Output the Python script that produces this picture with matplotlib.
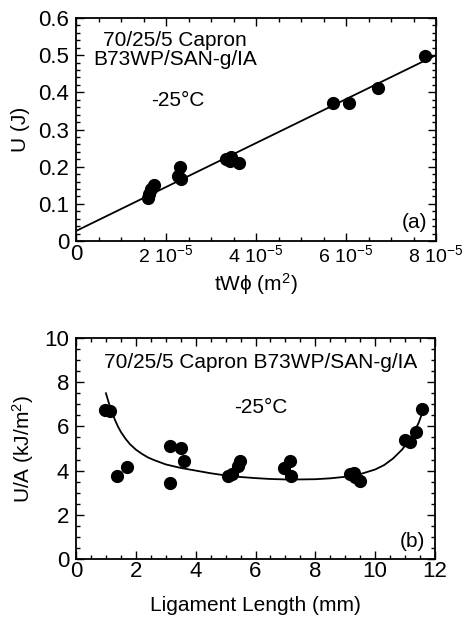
import matplotlib
matplotlib.use('Agg')
import matplotlib.pyplot as plt
from matplotlib.ticker import MultipleLocator, FuncFormatter

plt.rcParams['font.family'] = ['Liberation Sans', 'DejaVu Sans']
plt.rcParams['mathtext.fontset'] = 'custom'
plt.rcParams['mathtext.rm'] = 'Liberation Sans'
plt.rcParams['mathtext.it'] = 'Liberation Sans:italic'
plt.rcParams['mathtext.default'] = 'regular'

# panel (a): U vs tW*phi
twphi = [1.59e-5, 1.63e-5, 1.67e-5, 1.73e-5, 2.26e-5, 2.31e-5, 2.33e-5,
         3.33e-5, 3.44e-5, 3.43e-5, 3.63e-5, 5.72e-5, 6.06e-5, 6.72e-5, 7.76e-5]
energy = [0.117, 0.126, 0.140, 0.150, 0.176, 0.198, 0.167,
          0.221, 0.225, 0.214, 0.209, 0.371, 0.372, 0.412, 0.497]
fit_a_x = [0.0, 8.0e-5]
fit_a_y = [0.027, 0.500]
xticks_a = [0, 2e-5, 4e-5, 6e-5, 8e-5]
xticklabels_a = ['0', r'2 10$^{-5}$', r'4 10$^{-5}$', r'6 10$^{-5}$', r'8 10$^{-5}$']

# panel (b): U/A vs ligament length
lig = [0.97, 1.14, 1.36, 1.71, 3.15, 3.15, 3.51, 3.60, 5.09, 5.20, 5.42, 5.48,
       6.96, 7.16, 7.19, 9.15, 9.29, 9.33, 9.50, 11.00, 11.17, 11.36, 11.58]
ua = [6.74, 6.71, 3.77, 4.15, 5.13, 3.44, 5.00, 4.45, 3.74, 3.85, 4.22, 4.42,
      4.12, 4.42, 3.74, 3.85, 3.89, 3.70, 3.54, 5.38, 5.31, 5.73, 6.79]
curve_x = [1.0, 1.1, 1.2, 1.3, 1.4, 1.5, 1.65, 1.8, 2.0, 2.2, 2.4, 2.6, 2.8, 3.0,
           3.5, 4.0, 4.5, 5.0, 5.5, 6.0, 6.5, 7.0, 7.5, 8.0, 8.5, 9.0, 9.5,
           10.0, 10.3, 10.6, 10.9, 11.1, 11.3, 11.45, 11.6]
curve_y = [7.50, 7.05, 6.65, 6.30, 6.00, 5.75, 5.45, 5.20, 4.95, 4.76, 4.60, 4.48,
           4.38, 4.28, 4.12, 4.00, 3.88, 3.78, 3.71, 3.66, 3.62, 3.60, 3.60, 3.61,
           3.65, 3.72, 3.84, 4.05, 4.25, 4.55, 4.95, 5.30, 5.75, 6.15, 6.70]

fig = plt.figure(figsize=(4.64, 6.22), dpi=100)
ax1 = fig.add_axes([0.1638, 0.6125, 0.7759, 0.3586])
ax2 = fig.add_axes([0.1638, 0.1013, 0.7737, 0.3553])

fs = 15
tfs = 16

ax1.plot(fit_a_x, fit_a_y, color='black', lw=1.3)
ax1.plot(twphi, energy, 'o', color='black', ms=8.5)
ax1.set_xlim(0, 8e-5)
ax1.set_ylim(0, 0.6)
ax1.set_xticks(xticks_a)
ax1.set_xticklabels(xticklabels_a)
ax1.xaxis.set_minor_locator(MultipleLocator(0.5e-5))
ax1.yaxis.set_major_locator(MultipleLocator(0.1))
ax1.yaxis.set_minor_locator(MultipleLocator(0.02))
ax1.yaxis.set_major_formatter(FuncFormatter(lambda v, p: '0' if abs(v) < 1e-9 else f'{v:.1f}'))
ax1.set_ylabel('U (J)', fontsize=fs, labelpad=6)
ax1.set_xlabel('tW\u03d5 (m$^2$)', fontsize=fs, labelpad=4)
ax1.text(0.275, 0.901, '70/25/5 Capron', transform=ax1.transAxes,
         ha='center', va='center', fontsize=fs)
ax1.text(0.275, 0.812, 'B73WP/SAN-g/IA', transform=ax1.transAxes,
         ha='center', va='center', fontsize=fs)
ax1.text(0.282, 0.632, '-25\u00b0C', transform=ax1.transAxes, ha='center',
         va='center', fontsize=fs)
ax1.text(0.975, 0.085, '(a)', transform=ax1.transAxes, ha='right', va='center',
         fontsize=fs)

ax2.plot(curve_x, curve_y, color='black', lw=1.3)
ax2.plot(lig, ua, 'o', color='black', ms=8.5)
ax2.set_xlim(0, 12)
ax2.set_ylim(0, 10)
ax2.xaxis.set_major_locator(MultipleLocator(2))
ax2.xaxis.set_minor_locator(MultipleLocator(0.5))
ax2.yaxis.set_major_locator(MultipleLocator(2))
ax2.yaxis.set_minor_locator(MultipleLocator(0.5))
ax2.set_ylabel('U/A (kJ/m$^2$)', fontsize=fs, labelpad=6)
ax2.set_xlabel('Ligament Length (mm)', fontsize=fs, labelpad=10)
ax2.text(0.513, 0.888, '70/25/5 Capron B73WP/SAN-g/IA', transform=ax2.transAxes,
         ha='center', va='center', fontsize=fs)
ax2.text(0.515, 0.685, '-25\u00b0C', transform=ax2.transAxes, ha='center',
         va='center', fontsize=fs)
ax2.text(0.972, 0.081, '(b)', transform=ax2.transAxes, ha='right', va='center',
         fontsize=fs)

for ax in (ax1, ax2):
    for sp in ax.spines.values():
        sp.set_linewidth(1.3)
    ax.tick_params(which='both', direction='in', top=True, right=True,
                   labelsize=tfs, width=1.0)
    ax.tick_params(which='major', length=6, pad=5)
    ax.tick_params(which='minor', length=3)
ax1.tick_params(axis='x', which='major', pad=2, labelsize=14)
ax1.get_xticklabels()[0].set_fontsize(16)
ax2.tick_params(axis='x', which='major', pad=1.5)

fig.savefig('out.png', dpi=100)
